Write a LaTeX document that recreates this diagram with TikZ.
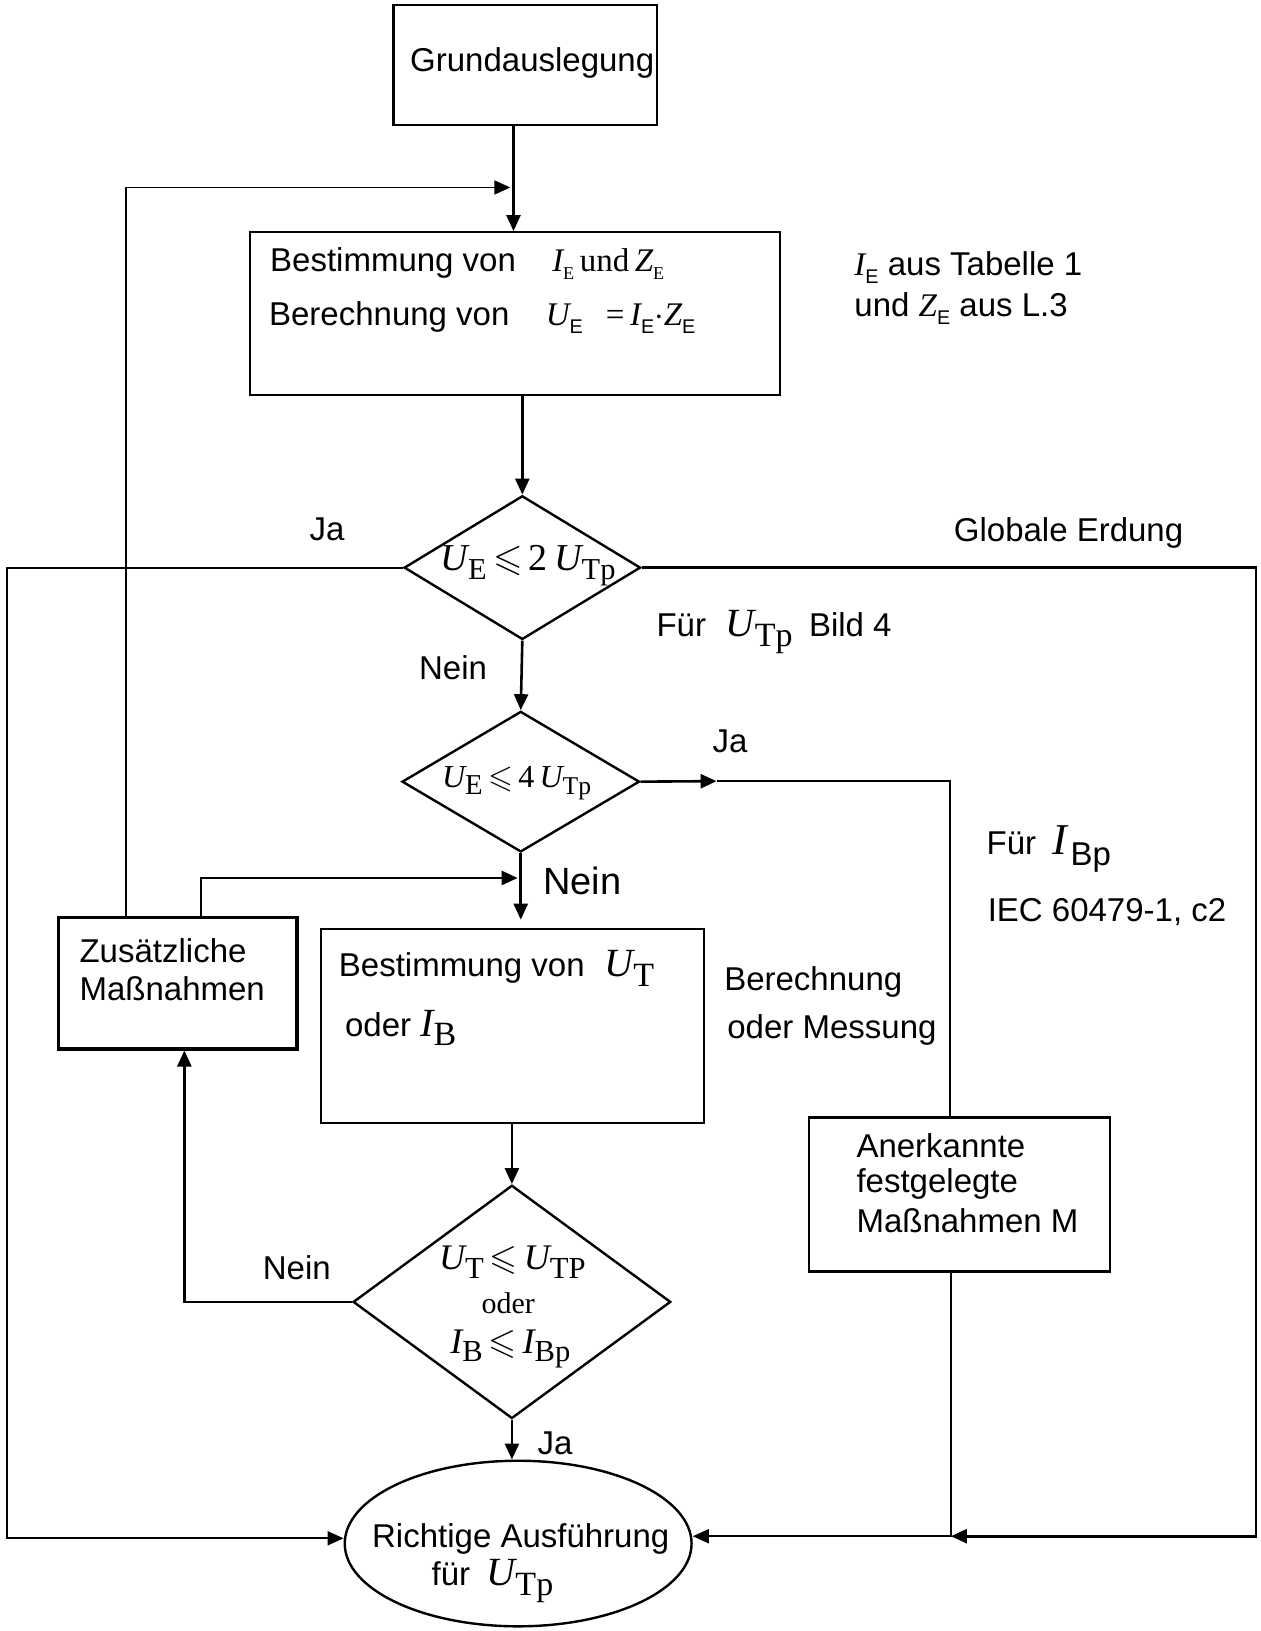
\documentclass[tikz,border=0pt]{standalone}
\usepackage{amssymb}
\usepackage{graphicx}
\usepackage{fontspec}
\setmainfont{Liberation Sans}
\newfontfamily\tms{Liberation Serif}
\usetikzlibrary{shapes.geometric,fit,arrows.meta}
\newcommand\mv[3][0.72]{{\tms\itshape #2}\raisebox{-0.45ex}{\scalebox{#1}{\tms #3}}}
\newcommand\mvs[3][0.72]{{\tms\itshape #2}\raisebox{-0.45ex}{\scalebox{#1}{\normalfont #3}}}
\def\px{0.5207pt}
\tikzset{
  ln/.style={line width=1.3pt},
  thinln/.style={line width=0.9pt},
  arr/.style={-{Triangle[length=8pt,width=7pt]}},
  boxst/.style={draw, line width=1.2pt, inner sep=0pt},
  dia/.style={draw, diamond, inner sep=0pt, line width=1.2pt},
  txt/.style={inner sep=0pt, font=\fontsize{16.5}{19}\selectfont},
  big/.style={font=\fontsize{19}{22}\selectfont},
}
\begin{document}
\begin{tikzpicture}[x=0.5207pt,y=-0.5207pt]
\fill[white] (0,0) rectangle (1210,1566);
\useasboundingbox (0,0) rectangle (1210,1566);

% ---------- nodes ----------
\node[boxst, fit={(378,5)(631,120)}] (grund) {};
\node[txt] (tgrund) at (511,60) {Grundauslegung};

\node[boxst, fit={(240,223)(749,379)}] (b2) {};
\node[txt, anchor=west] (t21) at (259,253) {Bestimmung von\hspace{1.1em}\mv[0.55]{I}{E}\,{\tms und}\,\mv[0.55]{Z}{E}};
\node[txt, anchor=west] (t22) at (258,305) {Berechnung von\hspace{1.1em}\mvs[0.6]{U}{E}\hspace{0.7em}{\tms =}\,\mvs[0.6]{I}{E}{\tms$\cdot$}\mvs[0.6]{Z}{E}};

\node[txt, anchor=west] (n1) at (820,257) {\mvs[0.6]{I}{E} aus Tabelle 1};
\node[txt, anchor=west] (n2) at (820,296) {und \mvs[0.6]{Z}{E} aus L.3};

\node[dia, minimum width=227*\px, minimum height=138*\px] (d1) at (501.5,545) {};
\node[txt, font=\fontsize{19}{21}\selectfont] (td1) at (507,543) {\mv[0.8]{U}{E}\,$\leqslant$\,{\tms 2}\,\mv[0.8]{U}{Tp}};

\node[txt] (ja1) at (314,508) {Ja};
\node[txt] (glob) at (1026,512) {Globale Erdung};
\node[txt, anchor=west] (fuer1) at (630,607) {Für\hspace{0.6em}{\fontsize{20}{22}\selectfont\mv[0.85]{U}{Tp}}\hspace{0.5em}Bild 4};
\node[txt] (nein1) at (435,641) {Nein};

\node[dia, minimum width=228*\px, minimum height=135*\px] (d2) at (500,750.5) {};
\node[txt, font=\fontsize{16}{18}\selectfont] (td2) at (496,752) {\mv[0.9]{U}{E}\,$\leqslant$\,{\tms 4}\,\mv[0.8]{U}{Tp}};
\node[txt] (ja2) at (701,712) {Ja};
\node[txt, big] (nein2) at (559,846) {Nein};

\node[txt, anchor=west] (fuer2) at (947,815) {Für\hspace{0.5em}{\fontsize{22}{24}\selectfont\mvs[0.75]{I}{\hspace{0.1em}Bp}}};
\node[txt, anchor=west] (iec) at (948,876) {IEC 60479-1, c2};

\node[boxst, line width=1.7pt, fit={(56,881)(285,1007)}] (zus) {};
\node[txt, anchor=west] (tz1) at (76,913) {Zusätzliche};
\node[txt, anchor=west] (tz2) at (76,949) {Maßnahmen};

\node[boxst, fit={(308,892)(676,1078)}] (b3) {};
\node[txt, anchor=west] (t31) at (325,930) {Bestimmung von\hspace{0.6em}{\fontsize{20}{22}\selectfont\mv[0.85]{U}{T}}};
\node[txt, anchor=west] (t32) at (331,987) {oder {\fontsize{20}{22}\selectfont\mv[0.85]{I}{B}}};

\node[txt, anchor=west] (ber1) at (695,943) {Berechnung};
\node[txt, anchor=west] (ber2) at (698,989) {oder Messung};

\node[boxst, fit={(777,1073)(1066,1221)}] (an) {};
\node[txt, anchor=west] (ta1) at (822,1100) {Anerkannte};
\node[txt, anchor=west] (ta2) at (822,1137) {festgelegte};
\node[txt, anchor=west] (ta3) at (822,1172) {Maßnahmen M};

\node[dia, minimum width=305*\px, minimum height=224*\px] (d3) at (491.5,1250) {};
\node[txt, font=\fontsize{18}{20}\selectfont] (td31) at (492,1212) {\mv[0.85]{U}{T}\,$\leqslant$\,\mv[0.85]{U}{TP}};
\node[txt, font=\fontsize{15}{17}\selectfont\tms] (td32) at (488,1251) {oder};
\node[txt, font=\fontsize{18}{20}\selectfont] (td33) at (490,1295) {\mv[0.85]{I}{B}\,$\leqslant$\,\mv[0.85]{I}{Bp}};
\node[txt] (nein3) at (285,1217) {Nein};
\node[txt] (ja3) at (533,1386) {Ja};

\node[draw, ellipse, line width=1.2pt, inner sep=0pt, minimum width=333*\px, minimum height=159*\px] (ell) at (497.5,1482) {};
\node[txt] (te1) at (500,1478) {Richtige Ausführung};
\node[txt, anchor=west] (te2) at (414,1518) {für\hspace{0.5em}{\fontsize{20}{22}\selectfont\mv[0.85]{U}{Tp}}};

% ---------- helper coordinates ----------
\coordinate (xa) at (493,0);
\coordinate (fbA) at (121,180);
\coordinate (fbAe) at (490,180);
\coordinate (xL) at (7,1477);
\coordinate (xR) at (1206,1475);
\coordinate (xM) at (913,1475);
\coordinate (jaA) at (688,750);
\coordinate (d2r) at (912,750);
\coordinate (fbB) at (193,843);
\coordinate (fbBe) at (497,843);
\coordinate (b3in) at (500,883);
\coordinate (xN) at (177,1250);

% ---------- connectors ----------
\draw[ln, arr] (xa |- grund.south) -- (xa |- b2.north);
\draw[thinln, arr] (fbA |- zus.north) -- (fbA) -- (fbAe);
\draw[ln, arr] (d1.north |- b2.south) -- (d1.north);
\draw[thinln, arr] (d1.west) -- (xL |- d1.west) -- (xL) -- (xL -| ell.west);
\draw[ln, arr] (d1.east) -- (xR |- d1.east) -- (xR) -- (xM);
\draw[ln, arr] (d1.south) -- (d2.north);
\draw[ln, arr] (d2.east) -- (jaA);
\draw[thinln] (jaA) -- (d2r) -- (d2r |- an.north);
\draw[ln, arr] (d2.south) -- (b3in);
\draw[ln, arr] (fbB |- zus.north) -- (fbB) -- (fbBe);
\draw[ln, arr] (d3.north |- b3.south) -- (d3.north);
\draw[ln, arr] (d3.west) -- (xN) -- (xN |- zus.south);
\draw[ln, arr] (d3.south) -- (d3.south |- ell.north);
\draw[thinln, arr] (xM |- an.south) -- (xM) -- (xM -| ell.east);
\end{tikzpicture}
\end{document}
